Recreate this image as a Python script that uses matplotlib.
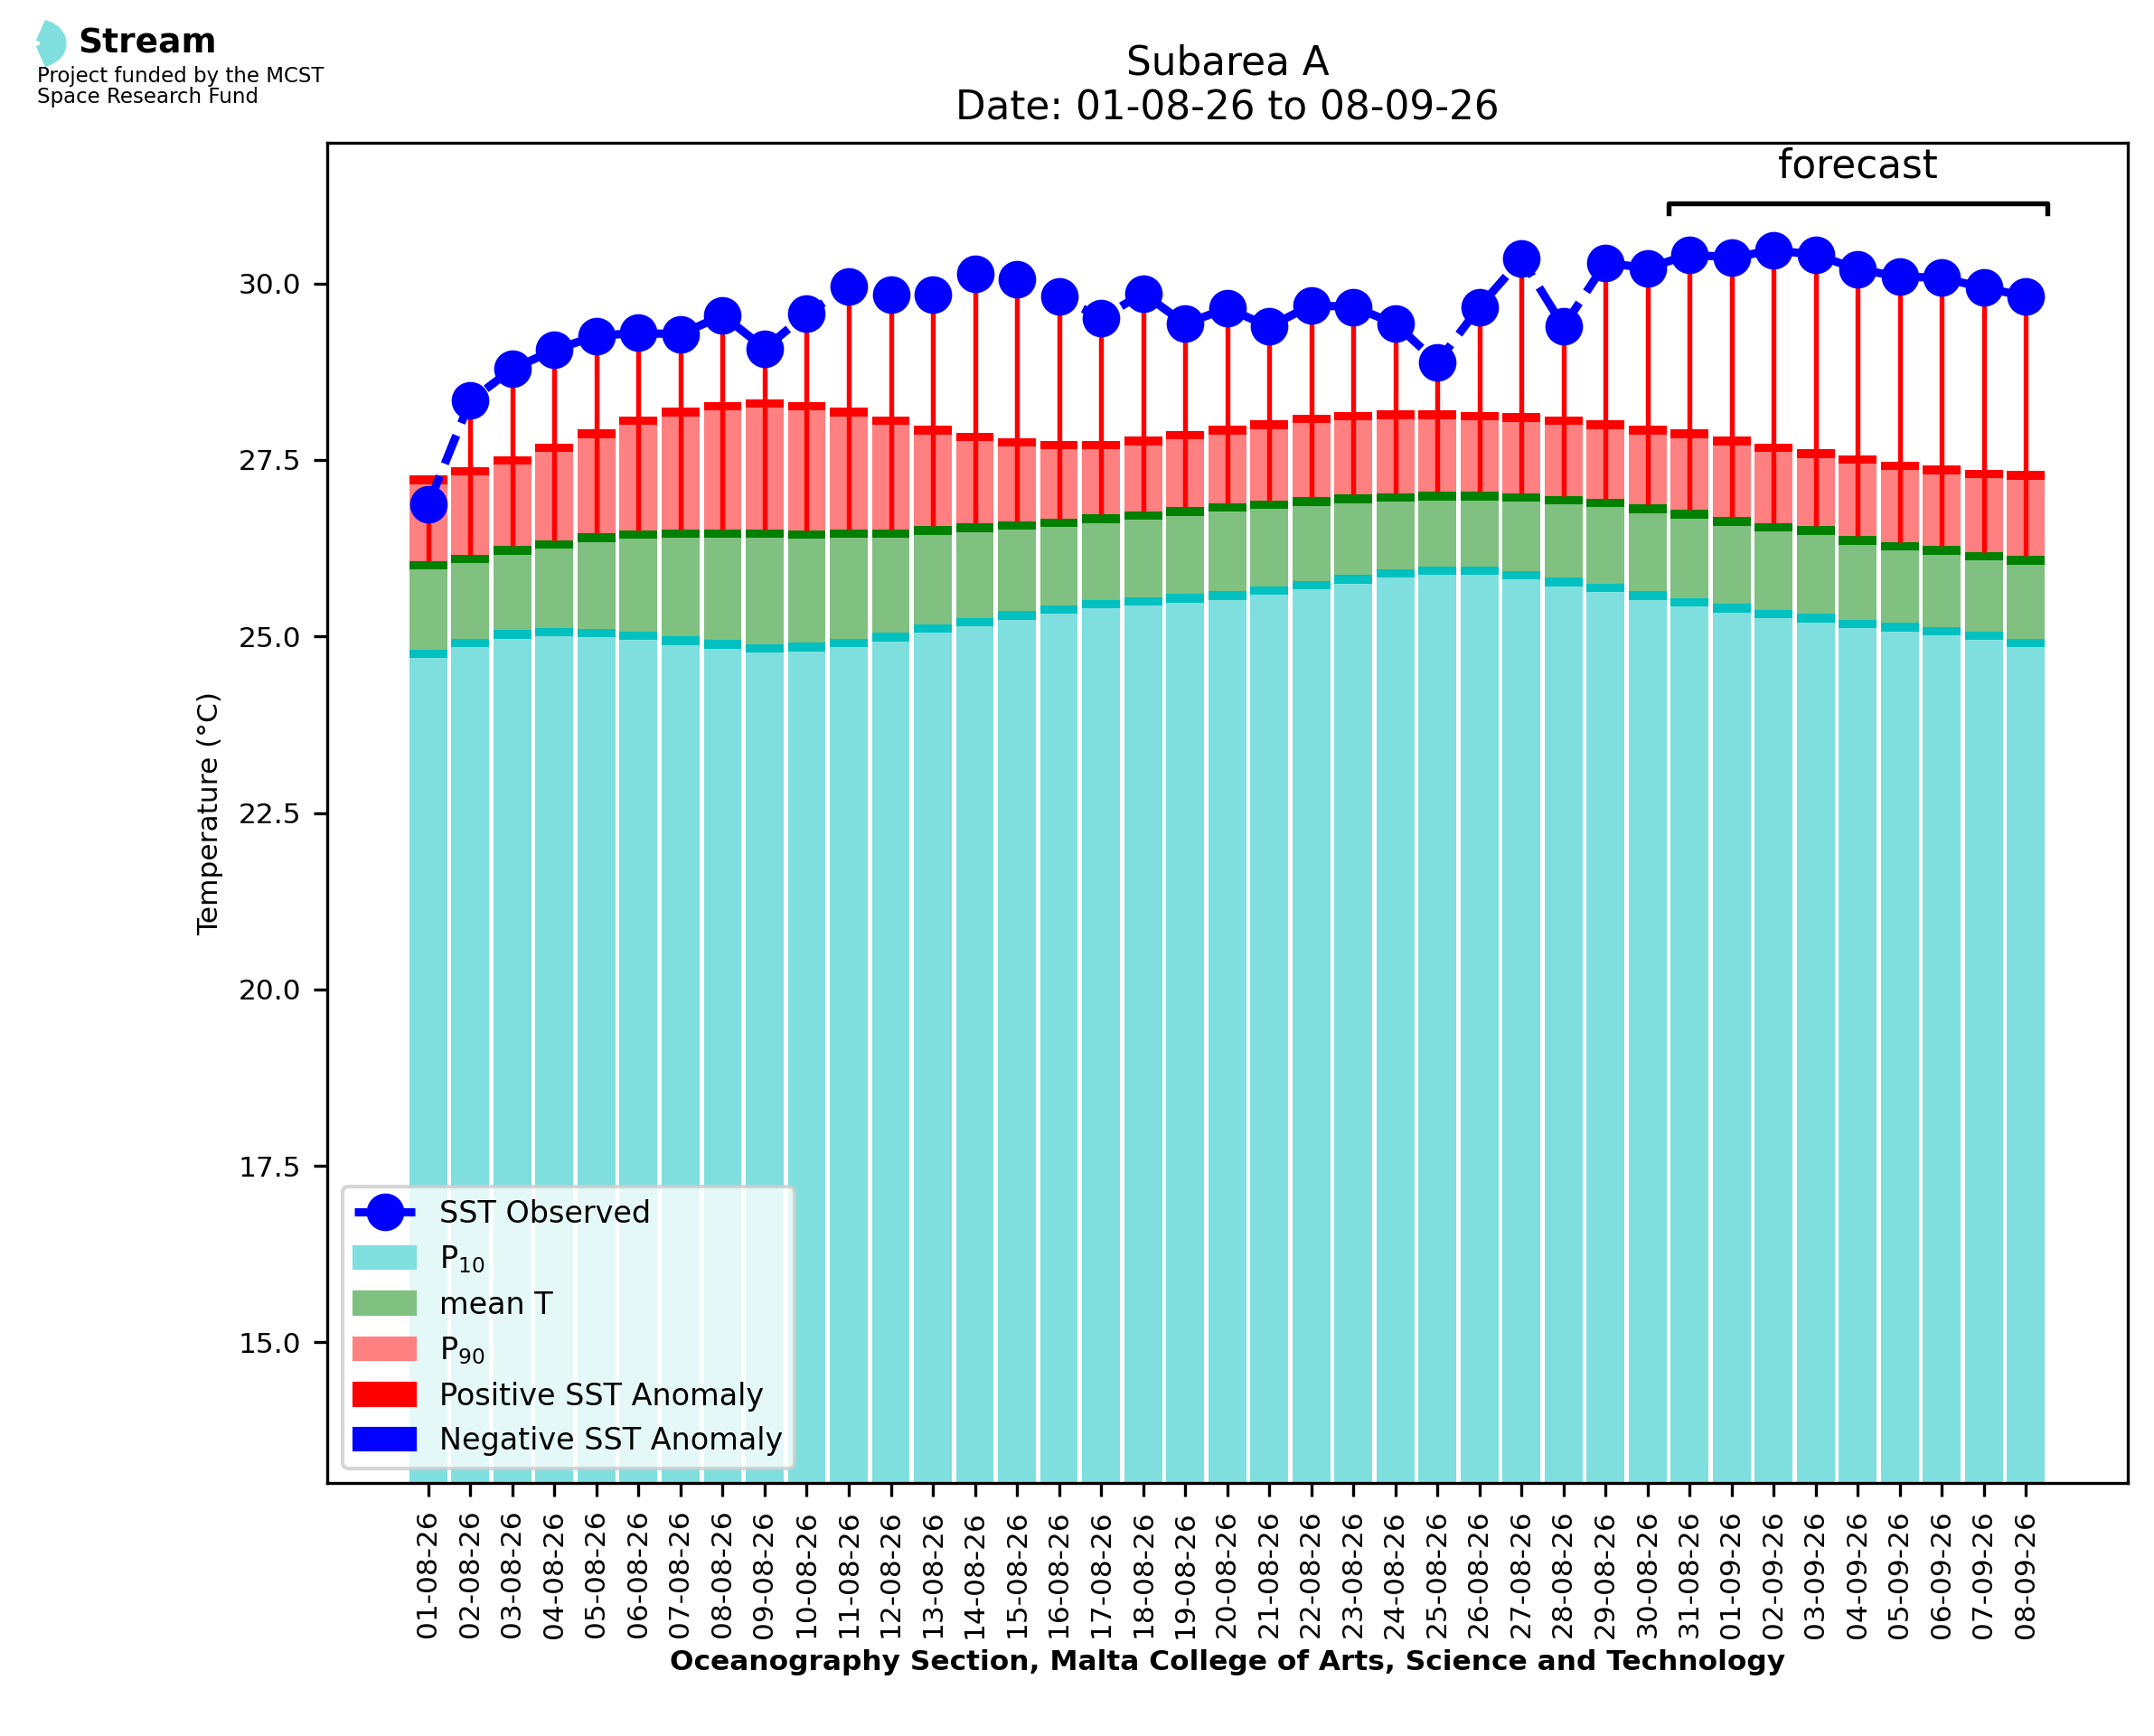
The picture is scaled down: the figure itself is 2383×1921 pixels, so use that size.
import matplotlib
matplotlib.use("Agg")
import matplotlib.pyplot as plt
import matplotlib.patches as mpatches
from matplotlib.lines import Line2D
import numpy as np

dates = ["01-08-26","02-08-26","03-08-26","04-08-26","05-08-26","06-08-26","07-08-26","08-08-26",
         "09-08-26","10-08-26","11-08-26","12-08-26","13-08-26","14-08-26","15-08-26","16-08-26",
         "17-08-26","18-08-26","19-08-26","20-08-26","21-08-26","22-08-26","23-08-26","24-08-26",
         "25-08-26","26-08-26","27-08-26","28-08-26","29-08-26","30-08-26","31-08-26","01-09-26",
         "02-09-26","03-09-26","04-09-26","05-09-26","06-09-26","07-09-26","08-09-26"]
sst = [26.87,28.34,28.79,29.06,29.26,29.30,29.28,29.55,29.08,29.57,29.96,29.84,29.84,30.14,30.06,
       29.82,29.51,29.86,29.43,29.65,29.39,29.69,29.67,29.43,28.88,29.67,30.35,29.39,30.29,30.22,
       30.41,30.37,30.47,30.41,30.20,30.10,30.08,29.94,29.82]
p90 = [27.28,27.40,27.55,27.73,27.93,28.12,28.24,28.32,28.36,28.32,28.24,28.12,27.98,27.89,27.81,
       27.77,27.77,27.83,27.91,27.98,28.06,28.14,28.18,28.20,28.20,28.18,28.16,28.12,28.06,27.98,
       27.93,27.83,27.73,27.65,27.57,27.48,27.42,27.36,27.34]
meanT = [26.07,26.16,26.28,26.36,26.46,26.50,26.52,26.52,26.52,26.50,26.52,26.52,26.56,26.60,26.63,
         26.67,26.73,26.77,26.83,26.89,26.93,26.97,27.01,27.03,27.05,27.05,27.03,26.99,26.95,26.87,
         26.79,26.69,26.61,26.56,26.42,26.34,26.28,26.20,26.14]
p10 = [24.81,24.97,25.09,25.12,25.11,25.07,25.00,24.95,24.89,24.91,24.97,25.05,25.17,25.26,25.36,
       25.44,25.52,25.56,25.60,25.64,25.71,25.79,25.87,25.95,25.99,25.99,25.93,25.83,25.75,25.64,
       25.54,25.46,25.38,25.32,25.24,25.19,25.13,25.07,24.97]
forecast_start = 30

sst = np.array(sst); p90 = np.array(p90); meanT = np.array(meanT); p10 = np.array(p10)
x = np.arange(len(dates))
w = 0.9
band = 0.12

fig = plt.figure(figsize=(2383/300, 1921/300), dpi=300)
ax = fig.add_axes([0.152, 0.1455, 0.836, 0.7725])

ax.bar(x, p10, width=w, color="#7fdfdf")
ax.bar(x, band, bottom=p10-band, width=w, color="#00c0c0")
ax.bar(x, meanT-p10, bottom=p10, width=w, color="#80c080")
ax.bar(x, band, bottom=meanT-band, width=w, color="#008000")
ax.bar(x, p90-meanT, bottom=meanT, width=w, color="#ff8080")
ax.bar(x, band, bottom=p90-band, width=w, color="#ff0000")
pos = sst > meanT
ax.vlines(x[pos], meanT[pos], sst[pos], color="red", lw=1.3)
ax.vlines(x[~pos], sst[~pos], meanT[~pos], color="blue", lw=1.3)
ax.plot(x, sst, "--", color="blue", lw=2.2, marker="o", ms=9, zorder=5)

ax.set_xlim(-2.4, 40.43)
ax.set_ylim(13, 32)
ax.set_xticks(x)
ax.set_xticklabels(dates, rotation=90, fontsize=7.5)
ax.set_yticks([15, 17.5, 20, 22.5, 25, 27.5, 30])
ax.set_yticklabels(["15.0","17.5","20.0","22.5","25.0","27.5","30.0"], fontsize=7.5)
ax.set_ylabel("Temperature (°C)", fontsize=7.5)
ax.set_xlabel("Oceanography Section, Malta College of Arts, Science and Technology",
              fontsize=7.5, fontweight="bold", labelpad=3)
ax.set_title("Subarea A\nDate: 01-08-26 to 08-09-26", fontsize=10.5)

# forecast bracket
x0, x1 = forecast_start - 0.5, len(dates) - 0.5
ax.plot([x0, x0, x1, x1], [31.0, 31.13, 31.13, 31.0], color="black", lw=1.3, clip_on=False)
ax.text((x0 + x1) / 2, 31.38, "forecast", ha="center", va="bottom", fontsize=10.5)

handles = [Line2D([], [], color="blue", ls="--", lw=2.2, marker="o", ms=9),
           mpatches.Patch(color="#7fdfdf"), mpatches.Patch(color="#80c080"),
           mpatches.Patch(color="#ff8080"), mpatches.Patch(color="red"), mpatches.Patch(color="blue")]
labels = ["SST Observed", "P$_{10}$", "mean T", "P$_{90}$", "Positive SST Anomaly", "Negative SST Anomaly"]
ax.legend(handles, labels, loc="lower left", fontsize=8, framealpha=0.8)

# logo
for r in [0.005, 0.009, 0.013]:
    fig.patches.append(mpatches.Wedge((0.017, 0.975), r, -70, 70, width=0.0025,
                                      transform=fig.transFigure, color="#7fdfdf"))
fig.text(0.036, 0.975, "Stream", fontsize=9, fontweight="bold", va="center")
fig.text(0.017, 0.962, "Project funded by the MCST\nSpace Research Fund", fontsize=5.5,
         va="top", linespacing=1.0)

fig.savefig("out.png", dpi=300)
